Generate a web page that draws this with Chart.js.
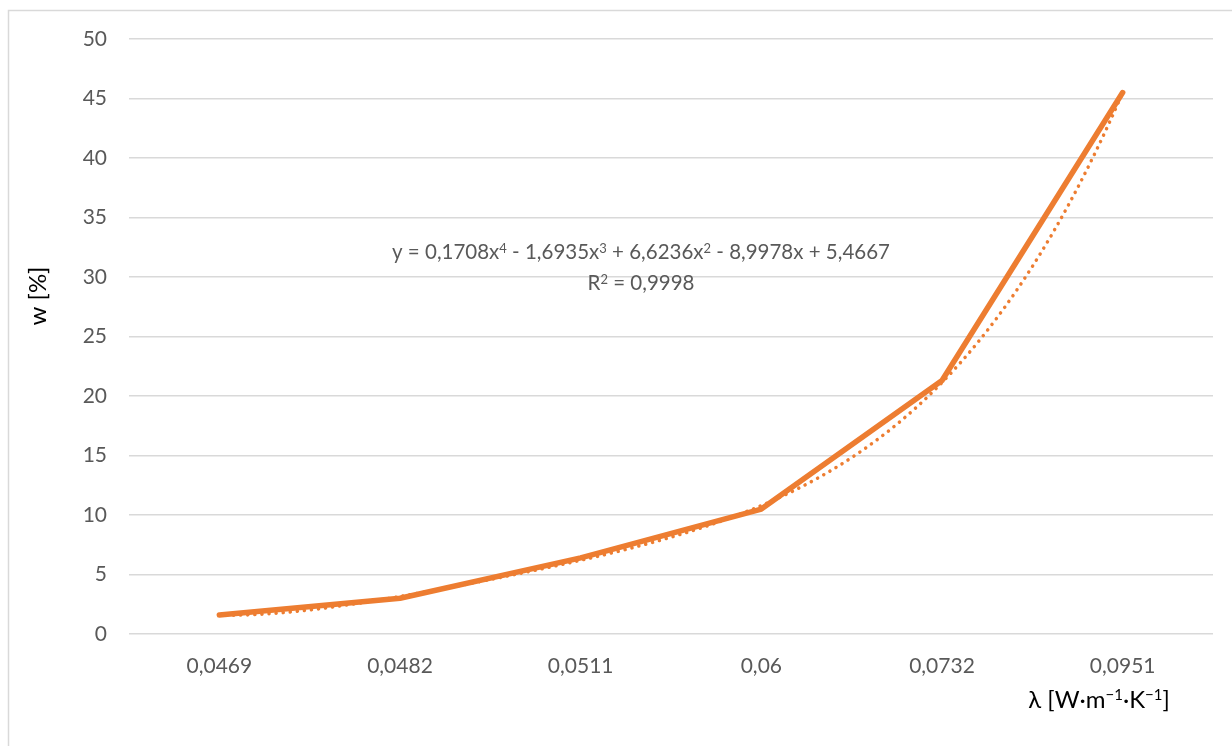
<!DOCTYPE html>
<html>
<head>
<meta charset="utf-8">
<title>w vs λ</title>
<script src="https://cdn.jsdelivr.net/npm/chart.js@4/dist/chart.umd.min.js"></script>
<style>
  html, body { margin: 0; padding: 0; background: #fff; }
  canvas { display: block; }
</style>
</head>
<body>
<canvas id="wChart" width="1232" height="746"></canvas>
<script>
const lambdaLabels = ['0,0469', '0,0482', '0,0511', '0,06', '0,0732', '0,0951'];
const wValues = [1.6, 3.0, 6.4, 10.5, 21.3, 45.5];
const yTicks = [0, 5, 10, 15, 20, 25, 30, 35, 40, 45, 50];
// 4th order polynomial trend, x = category index (1..6), highest power first
const trendCoef = [0.1708, -1.6935, 6.6236, -8.9978, 5.4667];
const trendR2 = '0,9998';

const FONT = 'Lato, "Open Sans", sans-serif';
const ORANGE = '#ED7D31';

function poly(x) {
  return trendCoef.reduce((acc, c) => acc * x + c, 0);
}

const trendPoints = [];
for (let i = 0; i <= 100; i++) {
  const x = 1 + i * 0.05;
  trendPoints.push({ x: x, y: poly(x) });
}

function fmt(n) {
  return Math.abs(n).toFixed(4).replace('.', ',');
}

// equation as text runs, [text, superscript?]
const eqRuns = [['y = ' + fmt(trendCoef[0]) + 'x', false], ['4', true]];
for (let k = 1; k < trendCoef.length; k++) {
  const p = trendCoef.length - 1 - k;
  const sign = trendCoef[k] < 0 ? ' - ' : ' + ';
  eqRuns.push([sign + fmt(trendCoef[k]) + (p > 0 ? 'x' : ''), false]);
  if (p > 1) eqRuns.push([String(p), true]);
}
const r2Runs = [['R', false], ['2', true], [' = ' + trendR2, false]];
const xTitleRuns = [['λ [W·m', false], ['−1', true], ['·K', false], ['−1', true], [']', false]];

// draws runs centred on cx, superscripts smaller and raised
function drawRuns(c, runs, cx, cy, size) {
  const supSize = Math.round(size * 0.62);
  let total = 0;
  runs.forEach(([t, s]) => {
    c.font = (s ? supSize : size) + 'px ' + FONT;
    total += c.measureText(t).width;
  });
  let x = cx - total / 2;
  c.textAlign = 'left';
  c.textBaseline = 'alphabetic';
  const base = cy + size * 0.36;
  runs.forEach(([t, s]) => {
    c.font = (s ? supSize : size) + 'px ' + FONT;
    c.fillText(t, x, s ? base - size * 0.32 : base);
    x += c.measureText(t).width;
  });
}

// white background, chart frame, axis titles and trendline label
const decor = {
  id: 'decor',
  beforeDraw(chart) {
    const c = chart.ctx;
    c.save();
    c.fillStyle = '#fff';
    c.fillRect(0, 0, chart.width, chart.height);
    c.strokeStyle = '#d9d9d9';
    c.lineWidth = 1.5;
    c.strokeRect(8.5, 10.5, chart.width + 20, chart.height + 20);
    c.restore();
  },
  afterDraw(chart) {
    const c = chart.ctx;
    c.save();
    c.fillStyle = '#595959';
    drawRuns(c, eqRuns, 641, 252, 20.5);
    drawRuns(c, r2Runs, 641, 283, 20.5);

    c.fillStyle = '#000';
    drawRuns(c, xTitleRuns, 1099, 699, 24);
    c.translate(37, 296);
    c.rotate(-Math.PI / 2);
    drawRuns(c, [['w [%]', false]], 0, 0, 24);
    c.restore();
  }
};

new Chart(document.getElementById('wChart'), {
  type: 'line',
  data: {
    datasets: [
      {
        label: 'trend',
        data: trendPoints,
        borderColor: ORANGE,
        borderWidth: 3.5,
        borderDash: [0.1, 7],
        borderCapStyle: 'round',
        pointRadius: 0,
        tension: 0,
        fill: false
      },
      {
        label: 'w',
        data: wValues.map((v, i) => ({ x: i + 1, y: v })),
        borderColor: ORANGE,
        borderWidth: 5.5,
        borderCapStyle: 'round',
        borderJoinStyle: 'round',
        pointRadius: 0,
        tension: 0,
        fill: false
      }
    ]
  },
  options: {
    responsive: false,
    animation: false,
    layout: { padding: { left: 0, top: 39, right: 19, bottom: 0 } },
    plugins: {
      legend: { display: false },
      tooltip: { enabled: false }
    },
    scales: {
      x: {
        type: 'linear',
        min: 0.5,
        max: 6.5,
        afterBuildTicks(scale) {
          scale.ticks = lambdaLabels.map((_, i) => ({ value: i + 1 }));
        },
        afterFit(scale) { scale.height = 112; },
        grid: { display: false, drawTicks: false },
        border: { display: false },
        ticks: {
          padding: 20,
          color: '#595959',
          font: { family: FONT, size: 21 },
          maxRotation: 0,
          callback: (v) => lambdaLabels[Math.round(v) - 1] || ''
        }
      },
      y: {
        min: 0,
        max: 50,
        afterBuildTicks(scale) {
          scale.ticks = yTicks.map(v => ({ value: v }));
        },
        afterFit(scale) { scale.width = 129; },
        grid: { color: '#d9d9d9', lineWidth: 1.5, drawTicks: false },
        border: { display: false },
        ticks: {
          padding: 22,
          color: '#595959',
          font: { family: FONT, size: 21 }
        }
      }
    }
  },
  plugins: [decor]
});
</script>
</body>
</html>
